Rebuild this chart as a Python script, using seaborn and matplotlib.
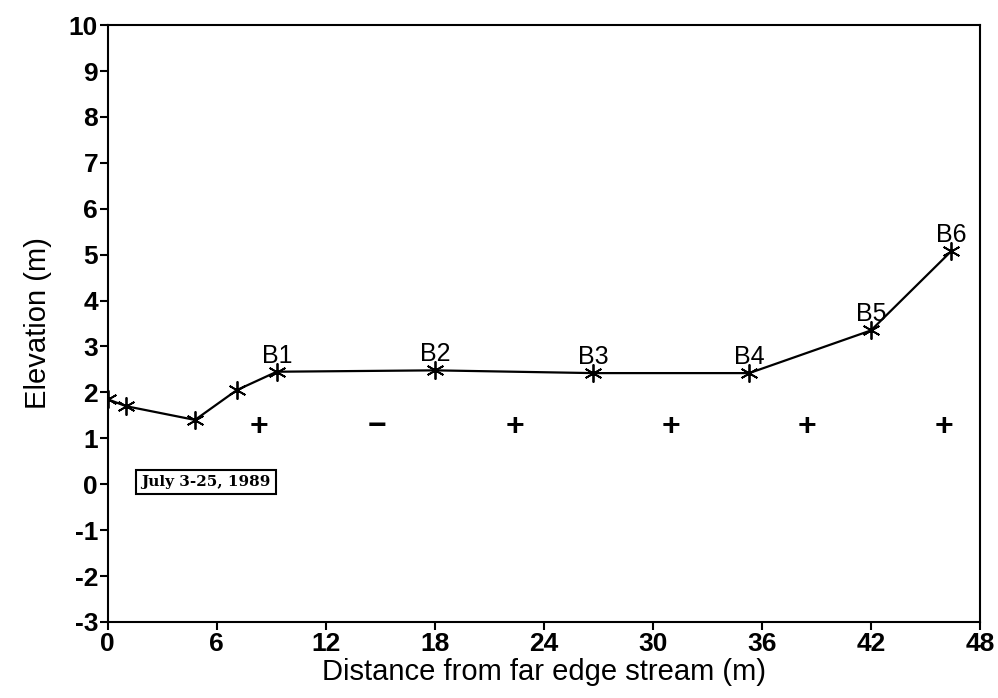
import matplotlib
matplotlib.use("Agg")
import matplotlib.pyplot as plt
import seaborn as sns
import pandas as pd

distance = [0.0, 1.0, 4.8, 7.1, 9.3, 18.0, 26.7, 35.3, 42.0, 46.4]
elevation = [1.85, 1.7, 1.4, 2.05, 2.45, 2.48, 2.42, 2.42, 3.35, 5.07]
well_names = ["", "", "", "", "B1", "B2", "B3", "B4", "B5", "B6"]

sign_x = [8.3, 14.8, 22.4, 31.0, 38.5, 46.0]
sign_y = [1.25, 1.25, 1.25, 1.25, 1.25, 1.25]
sign_text = ["+", "\u2212", "+", "+", "+", "+"]

x_ticks = [0, 6, 12, 18, 24, 30, 36, 42, 48]
y_ticks = list(range(-3, 11))

sns.set_theme(style="white")
plt.rcParams['font.family'] = ['Liberation Sans', 'DejaVu Sans']
plt.rcParams.update({"text.color": "black", "axes.labelcolor": "black",
                     "xtick.color": "black", "ytick.color": "black"})

fig = plt.figure(figsize=(9.98, 6.98), dpi=100)
ax = fig.add_axes([0.108, 0.109, 0.874, 0.855])

df = pd.DataFrame({"Distance": distance, "Elevation": elevation})
sns.lineplot(data=df, x="Distance", y="Elevation", ax=ax, color="black",
             linewidth=1.6, marker=(6, 2, 0), markersize=13,
             markeredgecolor="black", markeredgewidth=1.3, sort=False)

for xv, yv, name in zip(distance, elevation, well_names):
    if name:
        ax.annotate(name, (xv, yv), xytext=(0, 3), textcoords="offset points",
                    ha="center", va="bottom", fontsize=18, color="black")

for xv, yv, s in zip(sign_x, sign_y, sign_text):
    ax.text(xv, yv, s, ha="center", va="center", fontsize=23,
            fontweight="bold", color="black")

ax.text(5.4, 0.05, "July 3-25, 1989", ha="center", va="center",
        fontsize=11, family=["DejaVu Serif"], fontweight="bold", color="black",
        bbox=dict(boxstyle="square,pad=0.35", fc="white", ec="black", lw=1.5))

ax.set_xlim(0, 48)
ax.set_ylim(-3, 10)
ax.set_xticks(x_ticks)
ax.set_yticks(y_ticks)
ax.set_xticklabels([str(v) for v in x_ticks], fontsize=19, fontweight="bold")
ax.set_yticklabels([str(v) for v in y_ticks], fontsize=19, fontweight="bold")
ax.tick_params(axis="both", direction="out", length=6, width=1.5,
               color="black", labelcolor="black", pad=1, bottom=True, left=True)
ax.set_xlabel("Distance from far edge stream (m)", fontsize=21, labelpad=2,
              color="black")
ax.set_ylabel("Elevation (m)", fontsize=21, labelpad=12, color="black")
for sp in ax.spines.values():
    sp.set_color("black")
    sp.set_linewidth(1.5)
ax.grid(False)

fig.savefig("out.png", dpi=100, facecolor="white")
